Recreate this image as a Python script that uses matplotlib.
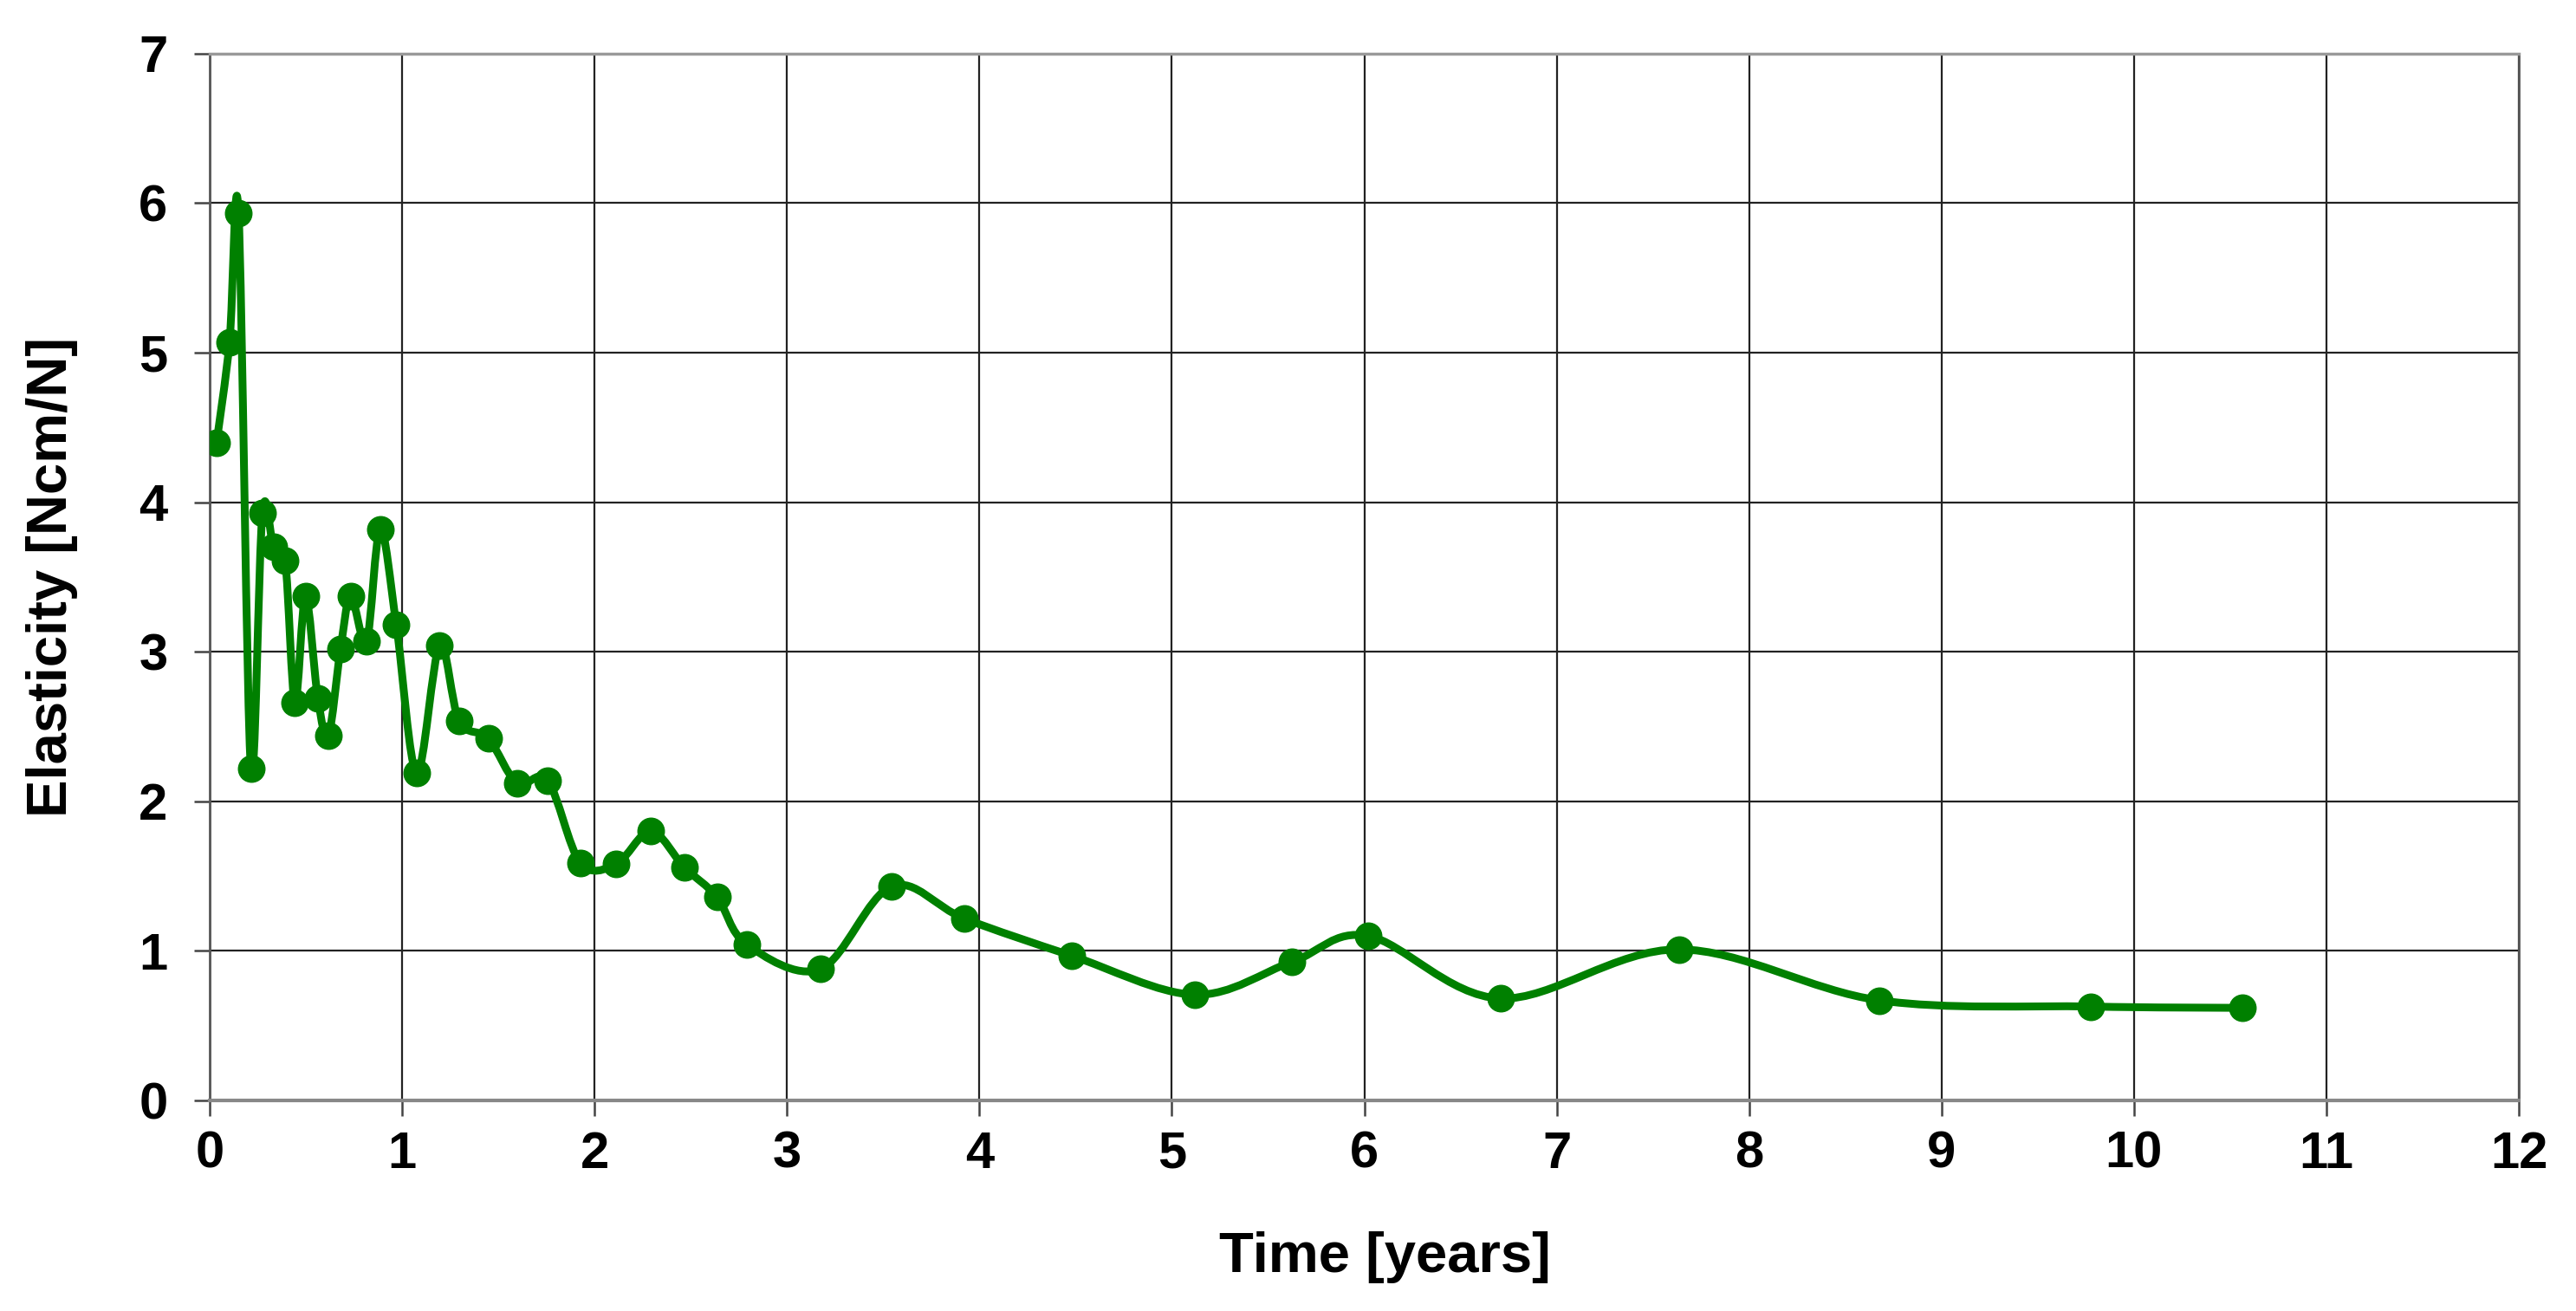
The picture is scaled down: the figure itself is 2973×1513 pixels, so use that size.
import matplotlib
matplotlib.use("Agg")
import matplotlib.pyplot as plt
from matplotlib.path import Path
from matplotlib.patches import PathPatch
import numpy as np

time_years = [0.036, 0.103, 0.150, 0.214, 0.274, 0.332, 0.392, 0.443, 0.498, 0.562,
              0.617, 0.680, 0.733, 0.815, 0.886, 0.970, 1.076, 1.195, 1.297, 1.448,
              1.598, 1.756, 1.926, 2.112, 2.293, 2.467, 2.637, 2.790, 3.174, 3.545,
              3.924, 4.481, 5.120, 5.625, 6.020, 6.707, 7.635, 8.678, 9.774, 10.562]
elasticity = [4.40, 5.07, 5.93, 2.22, 3.93, 3.70, 3.61, 2.66, 3.37, 2.69,
              2.44, 3.02, 3.37, 3.07, 3.82, 3.18, 2.19, 3.04, 2.535, 2.42,
              2.12, 2.14, 1.59, 1.58, 1.80, 1.558, 1.359, 1.044, 0.878, 1.432,
              1.215, 0.967, 0.707, 0.927, 1.10, 0.682, 1.01, 0.669, 0.628, 0.619]
x_ticks = list(range(0, 13))
y_ticks = list(range(0, 8))

GREEN = "#008000"
FONT = "Liberation Sans"

fig = plt.figure(figsize=(29.73, 15.13), dpi=100)
ax = fig.add_axes([0.0814, 0.1606, 0.8964, 0.7986])

# Excel-style smoothed line (Catmull-Rom -> cubic Bezier)
pts = np.column_stack([time_years, elasticity])
n = len(pts)
verts = [tuple(pts[0])]
codes = [Path.MOVETO]
for i in range(n - 1):
    p0 = pts[max(i - 1, 0)]
    p1 = pts[i]
    p2 = pts[i + 1]
    p3 = pts[min(i + 2, n - 1)]
    c1 = p1 + (p2 - p0) / 6.0
    c2 = p2 - (p3 - p1) / 6.0
    verts += [tuple(c1), tuple(c2), tuple(p2)]
    codes += [Path.CURVE4, Path.CURVE4, Path.CURVE4]
ax.add_patch(PathPatch(Path(verts, codes), fill=False, edgecolor=GREEN,
                       linewidth=6.5, zorder=3, joinstyle="round", capstyle="round"))
ax.plot(time_years, elasticity, linestyle="none", marker="o", markersize=22,
        color=GREEN, zorder=4)

ax.set_xlim(0, 12)
ax.set_ylim(0, 7)
ax.set_xticks(x_ticks)
ax.set_yticks(y_ticks)
ax.grid(True, color="#222222", linewidth=1.6, zorder=1)
ax.set_axisbelow(True)

for side in ["left", "right"]:
    ax.spines[side].set_color("#555555")
    ax.spines[side].set_linewidth(2.0)
ax.spines["top"].set_color("#999999")
ax.spines["top"].set_linewidth(2.5)
ax.spines["bottom"].set_color("#888888")
ax.spines["bottom"].set_linewidth(3.0)

ax.tick_params(axis="both", direction="out", length=13, width=1.8, color="#444444",
               labelsize=43)
ax.tick_params(axis="x", pad=12)
ax.tick_params(axis="y", pad=22)
for lab in ax.get_xticklabels() + ax.get_yticklabels():
    lab.set_fontfamily(FONT)
    lab.set_fontweight("bold")

ax.set_xlabel("Time [years]", fontsize=47, fontweight="bold", fontfamily=FONT)
ax.set_ylabel("Elasticity [Ncm/N]", fontsize=47, fontweight="bold", fontfamily=FONT)
ax.xaxis.set_label_coords(0.509, -0.125)
ax.yaxis.set_label_coords(-0.057, 0.5)

fig.savefig("out.png", dpi=100, facecolor="white")
